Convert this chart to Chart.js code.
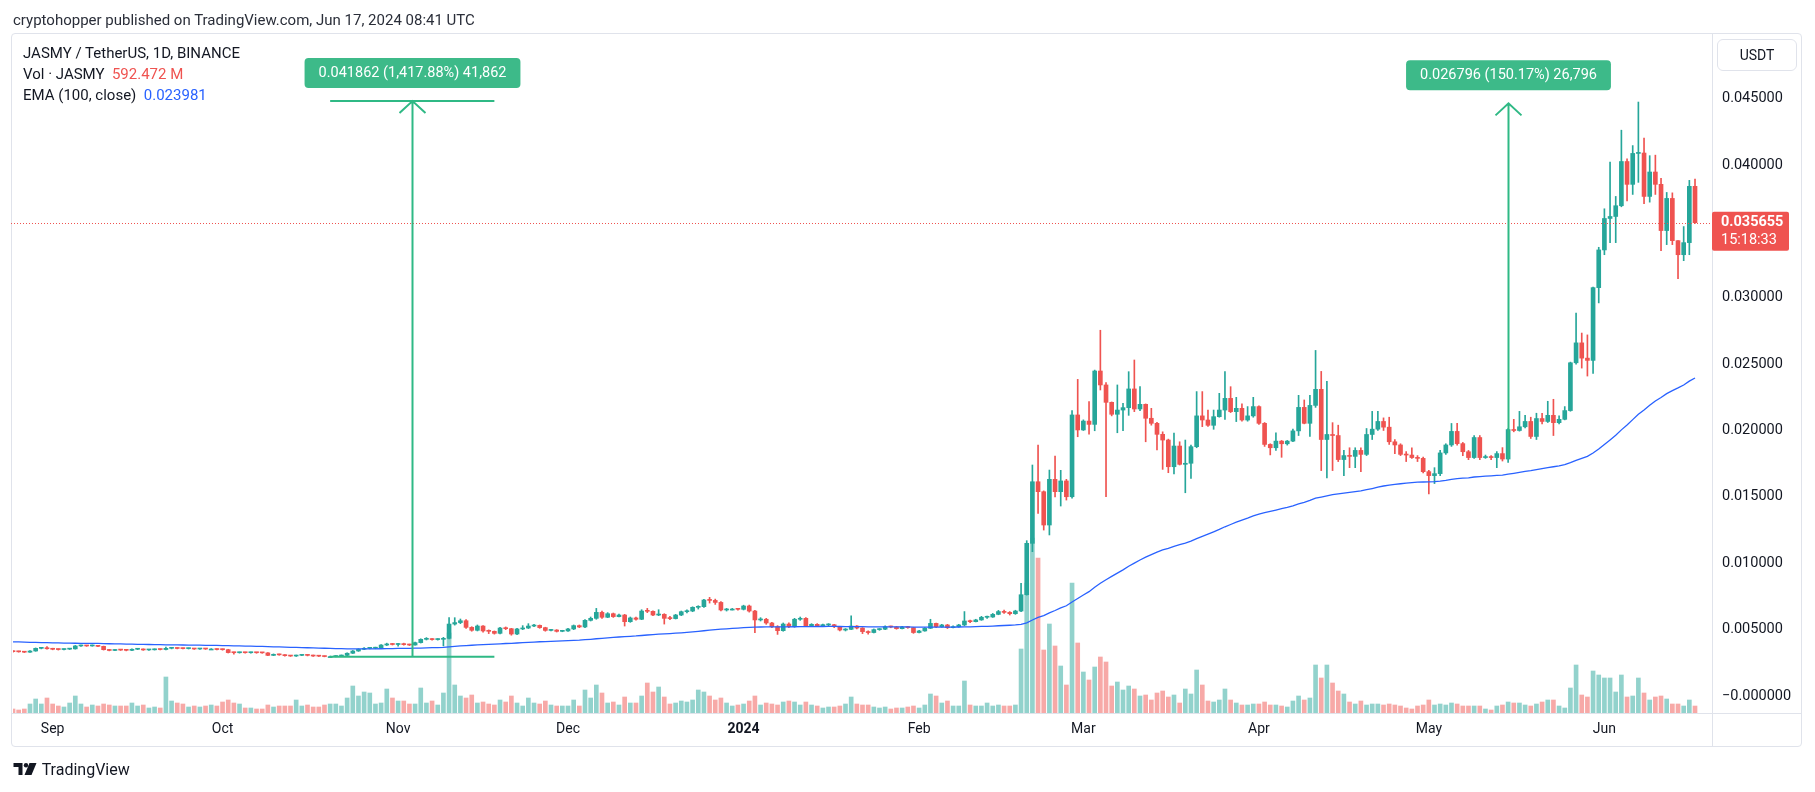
<!DOCTYPE html>
<html>
<head>
<meta charset="utf-8">
<script src="https://cdn.jsdelivr.net/npm/chart.js@4.4.1/dist/chart.umd.min.js"></script>
<style>
  body { margin: 0; background: #fff; font-family: Roboto, "Liberation Sans", sans-serif; color: #131722; }
  #wrap { position: relative; width: 1815px; height: 792px; overflow: hidden; }
  #frame { position: absolute; left: 11px; top: 33px; width: 1791px; height: 714px; border: 1px solid #e0e3eb; border-radius: 4px; box-sizing: border-box; }
  canvas { position: absolute; left: 0; top: 0; }
  .t { position: absolute; font-size: 15px; line-height: 18px; white-space: nowrap; }
  #usdt { position: absolute; left: 1717px; top: 39px; width: 80px; height: 32px; border: 1px solid #e0e3eb; border-radius: 6px; box-sizing: border-box; font-size: 14px; line-height: 30px; text-align: center; }
</style>
</head>
<body>
<div id="wrap">
  <div id="frame"></div>
  <canvas id="chart" width="1815" height="792"></canvas>
  <div class="t" style="left:13px;top:11px;color:#2a2e39">cryptohopper published on TradingView.com, Jun 17, 2024 08:41 UTC</div>
  <div class="t" style="left:23px;top:44px">JASMY / TetherUS, 1D, BINANCE</div>
  <div class="t" style="left:23px;top:65px">Vol · JASMY&nbsp;&nbsp;<span style="color:#ef5350">592.472 M</span></div>
  <div class="t" style="left:23px;top:86px">EMA (100, close)&nbsp;&nbsp;<span style="color:#2962ff">0.023981</span></div>
  <div id="usdt">USDT</div>
  <div class="t" style="left:13px;top:761px;font-size:16px;color:#131722">
    <svg width="25" height="14" viewBox="0 0 24 14" style="vertical-align:-1px"><path d="M0 1h9v12H5V5H0z" fill="#131722"/><circle cx="12.5" cy="3.2" r="2.2" fill="#131722"/><path d="M16 1h7l-5 12h-7z" fill="#131722"/></svg> TradingView
  </div>
</div>
<script>
// Daily candles, rows are [high, low, close, volume in M]; open = previous close
const firstOpen = 0.00336;
const aug23 = [
  [0.00340, 0.00331, 0.00334, 340], [0.00338, 0.00330, 0.00333, 255], [0.00336, 0.00327, 0.00330, 340],
  [0.00342, 0.00328, 0.00339, 765], [0.00362, 0.00337, 0.00359, 1190], [0.00364, 0.00355, 0.00360, 765],
  [0.00372, 0.00353, 0.00356, 1275]
];
const sep23 = [
  [0.00360, 0.00348, 0.00352, 765], [0.00355, 0.00346, 0.00350, 595], [0.00356, 0.00348, 0.00353, 510],
  [0.00358, 0.00350, 0.00355, 850], [0.00381, 0.00353, 0.00377, 1445], [0.00383, 0.00373, 0.00378, 765],
  [0.00382, 0.00374, 0.00377, 510], [0.00384, 0.00375, 0.00379, 680], [0.00381, 0.00371, 0.00374, 595],
  [0.00376, 0.00346, 0.00349, 765], [0.00351, 0.00340, 0.00343, 680], [0.00350, 0.00341, 0.00347, 595],
  [0.00350, 0.00343, 0.00346, 595], [0.00348, 0.00340, 0.00344, 595], [0.00356, 0.00342, 0.00352, 850],
  [0.00356, 0.00349, 0.00353, 595], [0.00355, 0.00344, 0.00347, 680], [0.00351, 0.00344, 0.00348, 425],
  [0.00355, 0.00346, 0.00352, 510], [0.00354, 0.00347, 0.00350, 425], [0.00368, 0.00348, 0.00359, 3060],
  [0.00364, 0.00355, 0.00360, 1020], [0.00363, 0.00355, 0.00358, 850], [0.00361, 0.00354, 0.00357, 765],
  [0.00361, 0.00354, 0.00358, 510], [0.00359, 0.00351, 0.00354, 595], [0.00358, 0.00351, 0.00355, 510],
  [0.00357, 0.00351, 0.00354, 595], [0.00357, 0.00350, 0.00354, 680], [0.00356, 0.00347, 0.00350, 595]
];
const oct23 = [
  [0.00354, 0.00345, 0.00349, 935], [0.00352, 0.00324, 0.00327, 1105], [0.00330, 0.00316, 0.00326, 850],
  [0.00331, 0.00323, 0.00328, 765], [0.00330, 0.00323, 0.00326, 425], [0.00330, 0.00323, 0.00327, 425],
  [0.00329, 0.00322, 0.00326, 340], [0.00329, 0.00322, 0.00325, 340], [0.00327, 0.00303, 0.00306, 680],
  [0.00317, 0.00304, 0.00314, 510], [0.00316, 0.00307, 0.00310, 595], [0.00312, 0.00300, 0.00304, 595],
  [0.00306, 0.00298, 0.00301, 595], [0.00309, 0.00299, 0.00306, 1105], [0.00310, 0.00303, 0.00307, 595],
  [0.00309, 0.00302, 0.00306, 680], [0.00308, 0.00298, 0.00301, 510], [0.00303, 0.00297, 0.00300, 510],
  [0.00302, 0.00295, 0.00297, 680], [0.00300, 0.00295, 0.00297, 765], [0.00304, 0.00295, 0.00301, 765],
  [0.00309, 0.00299, 0.00306, 595], [0.00325, 0.00304, 0.00322, 1275], [0.00343, 0.00320, 0.00339, 2295],
  [0.00356, 0.00336, 0.00352, 1445], [0.00364, 0.00349, 0.00359, 1785], [0.00366, 0.00355, 0.00360, 1700],
  [0.00368, 0.00356, 0.00364, 765], [0.00388, 0.00361, 0.00384, 850], [0.00398, 0.00380, 0.00392, 2040],
  [0.00397, 0.00384, 0.00388, 1275]
];
const nov23 = [
  [0.00396, 0.00376, 0.00390, 1020], [0.00398, 0.00383, 0.00387, 1020], [0.00391, 0.00380, 0.00384, 765],
  [0.00406, 0.00382, 0.00402, 765], [0.00431, 0.00399, 0.00427, 2125], [0.00440, 0.00422, 0.00428, 850],
  [0.00433, 0.00420, 0.00425, 1020], [0.00432, 0.00421, 0.00427, 680], [0.00442, 0.00377, 0.00434, 1700],
  [0.00590, 0.00430, 0.00542, 6800], [0.00590, 0.00534, 0.00553, 2380], [0.00580, 0.00545, 0.00567, 1445],
  [0.00575, 0.00510, 0.00517, 1275], [0.00522, 0.00488, 0.00495, 1530], [0.00535, 0.00490, 0.00527, 850],
  [0.00530, 0.00480, 0.00490, 935], [0.00498, 0.00470, 0.00487, 765], [0.00490, 0.00466, 0.00472, 680],
  [0.00518, 0.00468, 0.00512, 1105], [0.00520, 0.00500, 0.00507, 935], [0.00510, 0.00458, 0.00467, 1445],
  [0.00510, 0.00462, 0.00505, 850], [0.00530, 0.00500, 0.00512, 595], [0.00545, 0.00508, 0.00527, 1275],
  [0.00540, 0.00522, 0.00532, 850], [0.00535, 0.00510, 0.00515, 765], [0.00518, 0.00488, 0.00494, 1020],
  [0.00502, 0.00490, 0.00497, 680], [0.00500, 0.00482, 0.00487, 595], [0.00495, 0.00484, 0.00490, 595]
];
const dec23 = [
  [0.00510, 0.00486, 0.00505, 595], [0.00535, 0.00500, 0.00530, 1105], [0.00535, 0.00515, 0.00520, 595],
  [0.00575, 0.00515, 0.00570, 1955], [0.00595, 0.00565, 0.00585, 1275], [0.00660, 0.00578, 0.00630, 2380],
  [0.00640, 0.00585, 0.00593, 1700], [0.00628, 0.00590, 0.00620, 850], [0.00625, 0.00592, 0.00598, 935],
  [0.00618, 0.00595, 0.00610, 680], [0.00615, 0.00527, 0.00560, 1360], [0.00595, 0.00555, 0.00588, 850],
  [0.00595, 0.00572, 0.00578, 850], [0.00650, 0.00575, 0.00640, 1445], [0.00660, 0.00628, 0.00638, 2550],
  [0.00642, 0.00605, 0.00610, 1785], [0.00650, 0.00605, 0.00615, 2210], [0.00620, 0.00542, 0.00585, 1360],
  [0.00600, 0.00575, 0.00583, 765], [0.00615, 0.00580, 0.00610, 850], [0.00640, 0.00605, 0.00635, 1020],
  [0.00650, 0.00625, 0.00640, 935], [0.00672, 0.00635, 0.00668, 1105], [0.00680, 0.00655, 0.00673, 1955],
  [0.00728, 0.00668, 0.00723, 1785], [0.00743, 0.00700, 0.00720, 1445], [0.00730, 0.00690, 0.00705, 1105],
  [0.00712, 0.00640, 0.00648, 1275], [0.00660, 0.00640, 0.00655, 850], [0.00660, 0.00648, 0.00655, 595],
  [0.00660, 0.00646, 0.00653, 680]
];
const jan24 = [
  [0.00684, 0.00648, 0.00678, 765], [0.00685, 0.00632, 0.00640, 1020], [0.00645, 0.00477, 0.00573, 1445],
  [0.00590, 0.00565, 0.00578, 680], [0.00585, 0.00540, 0.00550, 850], [0.00555, 0.00515, 0.00522, 765],
  [0.00530, 0.00464, 0.00492, 680], [0.00550, 0.00488, 0.00542, 935], [0.00552, 0.00515, 0.00522, 1020],
  [0.00585, 0.00518, 0.00578, 935], [0.00595, 0.00570, 0.00585, 680], [0.00590, 0.00522, 0.00530, 935],
  [0.00545, 0.00525, 0.00540, 680], [0.00545, 0.00525, 0.00530, 595], [0.00542, 0.00527, 0.00535, 425],
  [0.00545, 0.00530, 0.00537, 510], [0.00540, 0.00515, 0.00522, 510], [0.00525, 0.00490, 0.00497, 595],
  [0.00508, 0.00490, 0.00502, 765], [0.00604, 0.00500, 0.00527, 1360], [0.00530, 0.00505, 0.00512, 765],
  [0.00515, 0.00470, 0.00485, 680], [0.00490, 0.00465, 0.00478, 680], [0.00505, 0.00475, 0.00500, 510],
  [0.00508, 0.00495, 0.00503, 425], [0.00528, 0.00500, 0.00522, 510], [0.00527, 0.00514, 0.00520, 340],
  [0.00524, 0.00503, 0.00507, 425], [0.00525, 0.00505, 0.00520, 425], [0.00524, 0.00510, 0.00515, 510],
  [0.00518, 0.00472, 0.00478, 595]
];
const feb24 = [
  [0.00495, 0.00475, 0.00490, 425], [0.00515, 0.00488, 0.00510, 680], [0.00578, 0.00508, 0.00547, 1615],
  [0.00550, 0.00515, 0.00522, 1445], [0.00540, 0.00518, 0.00535, 850], [0.00540, 0.00508, 0.00515, 1020],
  [0.00528, 0.00512, 0.00522, 595], [0.00540, 0.00518, 0.00535, 595], [0.00636, 0.00530, 0.00565, 2720],
  [0.00572, 0.00552, 0.00560, 680], [0.00578, 0.00558, 0.00573, 595], [0.00600, 0.00570, 0.00593, 595],
  [0.00602, 0.00585, 0.00595, 850], [0.00622, 0.00592, 0.00615, 595], [0.00645, 0.00612, 0.00636, 680],
  [0.00648, 0.00622, 0.00630, 595], [0.00636, 0.00610, 0.00620, 595], [0.00646, 0.00615, 0.00640, 680],
  [0.00848, 0.00636, 0.00763, 5440], [0.01170, 0.00760, 0.01150, 11050], [0.01740, 0.01087, 0.01614, 14875],
  [0.01890, 0.01376, 0.01539, 13175], [0.01545, 0.01250, 0.01288, 5355], [0.01702, 0.01213, 0.01632, 7565],
  [0.01808, 0.01500, 0.01539, 5695], [0.01700, 0.01431, 0.01620, 3995], [0.01632, 0.01476, 0.01501, 2380],
  [0.02150, 0.01490, 0.02117, 11050], [0.02385, 0.01953, 0.02004, 5950]
];
const mar24 = [
  [0.02080, 0.02000, 0.02071, 3485], [0.02217, 0.01973, 0.02046, 2805], [0.02455, 0.01998, 0.02448, 3910],
  [0.02755, 0.02305, 0.02343, 4760], [0.02360, 0.01501, 0.02212, 4335], [0.02215, 0.02110, 0.02122, 2295],
  [0.02343, 0.01983, 0.02154, 2635], [0.02205, 0.01998, 0.02172, 1955], [0.02443, 0.02114, 0.02313, 2295],
  [0.02531, 0.02142, 0.02162, 2040], [0.02330, 0.02150, 0.02197, 1445], [0.02200, 0.01915, 0.02092, 1530],
  [0.02167, 0.02040, 0.02054, 1105], [0.02062, 0.01853, 0.01971, 1700], [0.01990, 0.01707, 0.01928, 1870],
  [0.01935, 0.01682, 0.01727, 1360], [0.01981, 0.01672, 0.01883, 1530], [0.01915, 0.01740, 0.01745, 850],
  [0.01928, 0.01531, 0.01753, 2040], [0.01890, 0.01639, 0.01878, 1615], [0.02293, 0.01870, 0.02110, 3655],
  [0.02293, 0.02029, 0.02079, 2380], [0.02154, 0.02030, 0.02039, 1020], [0.02154, 0.02009, 0.02104, 935],
  [0.02280, 0.02100, 0.02154, 1105], [0.02443, 0.02084, 0.02242, 2040], [0.02330, 0.02135, 0.02142, 1105],
  [0.02250, 0.02067, 0.02167, 850], [0.02200, 0.02070, 0.02079, 680], [0.02180, 0.02070, 0.02110, 680],
  [0.02250, 0.02100, 0.02180, 765]
];
const apr24 = [
  [0.02185, 0.02045, 0.02054, 765], [0.02060, 0.01880, 0.01895, 935], [0.01900, 0.01816, 0.01870, 680],
  [0.01983, 0.01850, 0.01920, 680], [0.01925, 0.01798, 0.01900, 595], [0.01925, 0.01890, 0.01920, 510],
  [0.02010, 0.01915, 0.01997, 1020], [0.02265, 0.01962, 0.02174, 1445], [0.02230, 0.02050, 0.02054, 1105],
  [0.02265, 0.01955, 0.02189, 1275], [0.02603, 0.02174, 0.02310, 4080], [0.02445, 0.01698, 0.01932, 2975],
  [0.02370, 0.01643, 0.01970, 4080], [0.02059, 0.01698, 0.01962, 2550], [0.02040, 0.01766, 0.01781, 1870],
  [0.01850, 0.01660, 0.01811, 1615], [0.01870, 0.01720, 0.01805, 935], [0.01870, 0.01720, 0.01850, 765],
  [0.01870, 0.01690, 0.01820, 1020], [0.02015, 0.01811, 0.01970, 680], [0.02144, 0.01932, 0.02010, 765],
  [0.02144, 0.02000, 0.02068, 765], [0.02095, 0.02000, 0.02025, 680], [0.02100, 0.01895, 0.01915, 765],
  [0.01932, 0.01826, 0.01891, 680], [0.01900, 0.01811, 0.01820, 595], [0.01841, 0.01766, 0.01815, 425],
  [0.01870, 0.01790, 0.01796, 340], [0.01811, 0.01766, 0.01790, 595], [0.01800, 0.01680, 0.01690, 680]
];
const may24 = [
  [0.01700, 0.01523, 0.01660, 1105], [0.01720, 0.01600, 0.01675, 680], [0.01850, 0.01660, 0.01831, 765],
  [0.01900, 0.01820, 0.01891, 680], [0.02053, 0.01880, 0.01993, 850], [0.02053, 0.01890, 0.01901, 765],
  [0.01910, 0.01810, 0.01840, 595], [0.01850, 0.01780, 0.01796, 595], [0.01962, 0.01790, 0.01947, 595],
  [0.01962, 0.01780, 0.01796, 595], [0.01815, 0.01790, 0.01800, 340], [0.01811, 0.01780, 0.01796, 255],
  [0.01841, 0.01720, 0.01826, 595], [0.01871, 0.01770, 0.01785, 680], [0.02015, 0.01760, 0.02007, 935],
  [0.02084, 0.01990, 0.02000, 850], [0.02144, 0.01995, 0.02028, 850], [0.02114, 0.02020, 0.02068, 680],
  [0.02100, 0.01940, 0.01955, 595], [0.02130, 0.01932, 0.02090, 765], [0.02130, 0.02050, 0.02068, 935],
  [0.02220, 0.02060, 0.02114, 1105], [0.02235, 0.01962, 0.02059, 1105], [0.02110, 0.02050, 0.02084, 595],
  [0.02180, 0.02080, 0.02150, 425], [0.02515, 0.02145, 0.02510, 2125], [0.02885, 0.02500, 0.02660, 4080],
  [0.02734, 0.02470, 0.02545, 1530], [0.02720, 0.02410, 0.02528, 1360], [0.03080, 0.02430, 0.03076, 3570],
  [0.03380, 0.02961, 0.03360, 3230]
];
const jun24 = [
  [0.03670, 0.03324, 0.03597, 2975], [0.04022, 0.03415, 0.03612, 2975], [0.03763, 0.03415, 0.03693, 1785],
  [0.04262, 0.03685, 0.04026, 3230], [0.04046, 0.03730, 0.03854, 1360], [0.04146, 0.03778, 0.04087, 1445],
  [0.04474, 0.03869, 0.04090, 2975], [0.04202, 0.03708, 0.03763, 1700], [0.04070, 0.03720, 0.03947, 1105],
  [0.04074, 0.03778, 0.03854, 1360], [0.03899, 0.03354, 0.03506, 1445], [0.03793, 0.03400, 0.03748, 1190],
  [0.03790, 0.03400, 0.03430, 765], [0.03430, 0.03143, 0.03324, 765], [0.03536, 0.03279, 0.03415, 595],
  [0.03884, 0.03324, 0.03839, 1105], [0.03893, 0.03560, 0.035655, 592.472]
];

// EMA(100, close), seeded with the value at the left edge of the picture
const emaLength = 100;
const emaSeed = 0.00410;

// price axis ticks (0.035 is hidden under the last-price tag)
const priceTicks = [0, 0.005, 0.01, 0.015, 0.02, 0.025, 0.03, 0.04, 0.045];

// date and price range drawings: [start day, end day], start price, end price, label
const rangeDays = [[56, 85], [264, 264]];
const rangeFrom = [0.002952, 0.017844];
const rangeTo = [0.044814, 0.044640];
const rangeLabels = ['0.041862 (1,417.88%) 41,862', '0.026796 (150.17%) 26,796'];
const clockText = '15:18:33';

const rows = [].concat(aug23, sep23, oct23, nov23, dec23, jan24, feb24, mar24, apr24, may24, jun24);
const startDay = Date.UTC(2023, 7, 25);
const monthNames = ['Jan', 'Feb', 'Mar', 'Apr', 'May', 'Jun', 'Jul', 'Aug', 'Sep', 'Oct', 'Nov', 'Dec'];
const dates = [];
for (let i = 0; i < rows.length + 3; i++) dates.push(new Date(startDay + i * 864e5));
const labels = dates.map((d) => d.toISOString().slice(0, 10));

const closes = rows.map((r) => r[2]);
const opens = closes.map((c, i) => (i === 0 ? firstOpen : closes[i - 1]));
const up = closes.map((c, i) => c >= opens[i]);
const GREEN = '#26a69a', RED = '#ef5350';
const candleColors = up.map((u) => (u ? GREEN : RED));
const volColors = up.map((u) => (u ? 'rgba(38,166,154,0.5)' : 'rgba(239,83,80,0.5)'));

let e = emaSeed;
const ema = closes.map((c) => (e = e + (2 / (emaLength + 1)) * (c - e)));

const FONT = 'Roboto, "Liberation Sans", sans-serif';

const overlay = {
  id: 'overlay',
  beforeDraw(chart) {
    const { ctx, chartArea: a } = chart;
    ctx.save();
    ctx.strokeStyle = '#e0e3eb';
    ctx.lineWidth = 1;
    ctx.beginPath();
    ctx.moveTo(Math.round(a.right) + 0.5, 33);
    ctx.lineTo(Math.round(a.right) + 0.5, 747);
    ctx.moveTo(11, Math.round(a.bottom) + 0.5);
    ctx.lineTo(1802, Math.round(a.bottom) + 0.5);
    ctx.stroke();
    ctx.restore();
  },
  afterDatasetsDraw(chart) {
    const { ctx, chartArea: a } = chart;
    const x = chart.scales.x, y = chart.scales.y;
    ctx.save();
    // last price line
    const yc = Math.round(y.getPixelForValue(closes[closes.length - 1])) + 0.5;
    ctx.strokeStyle = RED;
    ctx.setLineDash([1, 2]);
    ctx.beginPath();
    ctx.moveTo(11, yc);
    ctx.lineTo(a.right, yc);
    ctx.stroke();
    ctx.setLineDash([]);

    // range tools
    ctx.font = '14.5px ' + FONT;
    rangeDays.forEach((d, i) => {
      const x0 = x.getPixelForValue(d[0]), x1 = x.getPixelForValue(d[1]);
      const xm = Math.round((x0 + x1) / 2) + 0.5;
      const yTop = y.getPixelForValue(rangeTo[i]), yBot = y.getPixelForValue(rangeFrom[i]);
      ctx.strokeStyle = '#2fb985';
      ctx.lineWidth = 2;
      ctx.beginPath();
      if (x1 > x0) {
        ctx.moveTo(x0, yTop); ctx.lineTo(x1, yTop);
        ctx.moveTo(x0, yBot); ctx.lineTo(x1, yBot);
      }
      ctx.moveTo(xm, yBot); ctx.lineTo(xm, yTop);
      ctx.moveTo(xm - 13, yTop + 12); ctx.lineTo(xm, yTop); ctx.lineTo(xm + 13, yTop + 12);
      ctx.stroke();

      const w = ctx.measureText(rangeLabels[i]).width + 28;
      const bx = xm - w / 2, by = yTop - 13 - 30;
      ctx.fillStyle = '#3dba89';
      ctx.beginPath();
      ctx.roundRect(bx, by, w, 30, 4);
      ctx.fill();
      ctx.fillStyle = '#ffffff';
      ctx.textAlign = 'center';
      ctx.textBaseline = 'middle';
      ctx.fillText(rangeLabels[i], xm, by + 15);
    });
    ctx.restore();
  },
  afterDraw(chart) {
    const { ctx, chartArea: a } = chart;
    const y = chart.scales.y;
    const yc = y.getPixelForValue(closes[closes.length - 1]);
    ctx.save();
    ctx.fillStyle = RED;
    ctx.beginPath();
    ctx.roundRect(a.right, yc - 11, 77, 39, 2);
    ctx.fill();
    ctx.fillStyle = '#ffffff';
    ctx.textAlign = 'left';
    ctx.textBaseline = 'middle';
    ctx.font = 'bold 14.5px ' + FONT;
    ctx.fillText(closes[closes.length - 1].toFixed(6), a.right + 9, yc);
    ctx.font = '14.5px ' + FONT;
    ctx.fillText(clockText, a.right + 9, yc + 18);
    ctx.restore();
  }
};

new Chart(document.getElementById('chart'), {
  type: 'bar',
  data: {
    labels: labels,
    datasets: [
      {
        type: 'line',
        data: ema,
        borderColor: '#2962ff',
        borderWidth: 1.3,
        pointRadius: 0,
        tension: 0,
        order: 0,
      },
      {
        data: rows.map((r, i) => [opens[i], r[2]]),
        backgroundColor: candleColors,
        barThickness: 4,
        minBarLength: 1,
        grouped: false,
        order: 1,
      },
      {
        data: rows.map((r) => [r[1], r[0]]),
        backgroundColor: candleColors,
        barThickness: 1,
        grouped: false,
        order: 2,
      },
      {
        data: rows.map((r) => r[3]),
        backgroundColor: volColors,
        barThickness: 4,
        grouped: false,
        yAxisID: 'yv',
        order: 3,
      },
    ],
  },
  options: {
    responsive: false,
    animation: false,
    devicePixelRatio: 1,
    layout: { padding: { left: 13, top: 35, right: 13, bottom: 45 } },
    plugins: { legend: { display: false }, tooltip: { enabled: false } },
    scales: {
      x: {
        type: 'category',
        offset: false,
        grid: { display: false, drawTicks: false },
        border: { display: false },
        afterBuildTicks: (s) => {
          s.ticks = s.ticks.filter((t) => dates[t.value].getUTCDate() === 1);
        },
        afterFit: (s) => { s.height = 34; },
        ticks: {
          autoSkip: false,
          maxRotation: 0,
          padding: 8,
          color: '#131722',
          font: (c) => ({ family: FONT, size: 14, weight: c.tick && c.tick.label === '2024' ? 'bold' : 'normal' }),
          callback: (v) => {
            const d = dates[v];
            return d.getUTCMonth() === 0 ? String(d.getUTCFullYear()) : monthNames[d.getUTCMonth()];
          },
        },
      },
      y: {
        position: 'right',
        min: -0.00128,
        max: 0.04979,
        grid: { display: false, drawTicks: false },
        border: { display: false },
        afterBuildTicks: (s) => { s.ticks = priceTicks.map((v) => ({ value: v })); },
        afterFit: (s) => { s.width = 90; },
        ticks: {
          padding: 10,
          color: '#131722',
          font: { family: FONT, size: 14.5 },
          callback: (v) => (v === 0 ? '\u22120.000000' : v.toFixed(6)),
        },
      },
      yv: {
        display: false,
        min: 0,
        max: 57630,
      },
    },
  },
  plugins: [overlay],
});
</script>
</body>
</html>
